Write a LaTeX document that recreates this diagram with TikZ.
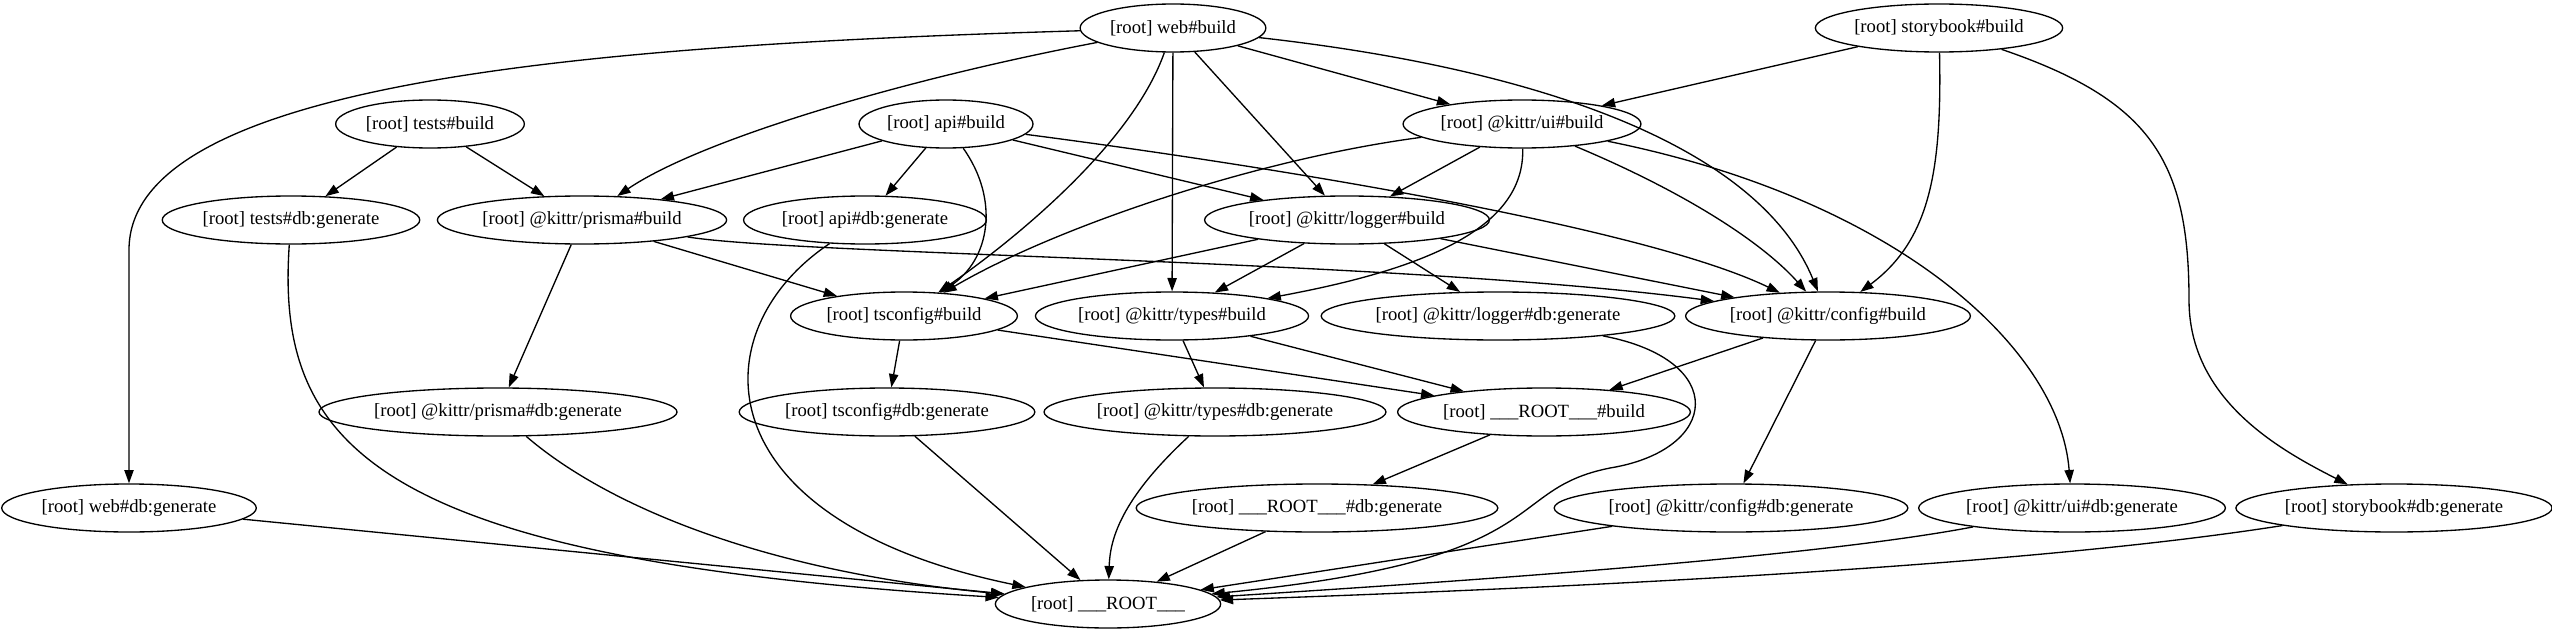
\documentclass[tikz,border=0pt]{standalone}
\usepackage{fontspec}
\setmainfont{Liberation Serif}
\usetikzlibrary{shapes.geometric,arrows.meta}
\tikzset{
  task/.style={draw, ellipse, line width=1pt, minimum height=36pt, inner xsep=2pt, inner ysep=1pt,
    font=\fontsize{14}{16}\selectfont},
  dep/.style={-{Triangle[length=10pt,width=7pt]}, line width=1pt}
}
\begin{document}
\begin{tikzpicture}[x=0.75pt,y=-0.75pt]
\useasboundingbox (0,0) rectangle (2552,635);
% rank 0
\node[task] (web) at (1173,28) {[root] web\#build};
\node[task] (storybook) at (1939,28) {[root] storybook\#build};
% rank 1
\node[task] (tests) at (430,124) {[root] tests\#build};
\node[task] (api) at (946,124) {[root] api\#build};
\node[task] (ui) at (1522,124) {[root] @kittr/ui\#build};
% rank 2
\node[task] (testsdb) at (291,220) {[root] tests\#db:generate};
\node[task] (prisma) at (582,220) {[root] @kittr/prisma\#build};
\node[task] (apidb) at (865,220) {[root] api\#db:generate};
\node[task] (logger) at (1347,220) {[root] @kittr/logger\#build};
% rank 3
\node[task] (tsconfig) at (904,316) {[root] tsconfig\#build};
\node[task] (types) at (1172,316) {[root] @kittr/types\#build};
\node[task] (loggerdb) at (1498,316) {[root] @kittr/logger\#db:generate};
\node[task] (config) at (1828,316) {[root] @kittr/config\#build};
% rank 4
\node[task] (prismadb) at (498,412) {[root] @kittr/prisma\#db:generate};
\node[task] (tsconfigdb) at (887,412) {[root] tsconfig\#db:generate};
\node[task] (typesdb) at (1215,412) {[root] @kittr/types\#db:generate};
\node[task] (rootbuild) at (1544,412) {[root] \_\_\_ROOT\_\_\_\#build};
% rank 5
\node[task] (webdb) at (129,508) {[root] web\#db:generate};
\node[task] (rootdb) at (1317,508) {[root] \_\_\_ROOT\_\_\_\#db:generate};
\node[task] (configdb) at (1731,508) {[root] @kittr/config\#db:generate};
\node[task] (uidb) at (2072,508) {[root] @kittr/ui\#db:generate};
\node[task] (storybookdb) at (2394,508) {[root] storybook\#db:generate};
% rank 6
\node[task] (root) at (1108,604) {[root] \_\_\_ROOT\_\_\_};

% web#build
\draw[dep] (web) .. controls (600,45) and (129,80) .. (129,250) -- (webdb);
\draw[dep] (web) .. controls (900,80) and (700,140) .. (prisma);
\draw[dep] (web) .. controls (1130,150) and (1000,250) .. (tsconfig);
\draw[dep] (web) -- (types);
\draw[dep] (web) -- (logger);
\draw[dep] (web) -- (ui);
\draw[dep] (web) .. controls (1550,70) and (1760,150) .. (config);
% storybook#build
\draw[dep] (storybook) -- (ui);
\draw[dep] (storybook) .. controls (1942,170) and (1930,240) .. (config);
\draw[dep] (storybook) .. controls (2150,100) and (2189,160) .. (2189,300)
  .. controls (2189,400) and (2280,450) .. (storybookdb);
% tests#build
\draw[dep] (tests) -- (testsdb);
\draw[dep] (tests) -- (prisma);
% api#build
\draw[dep] (api) -- (prisma);
\draw[dep] (api) -- (apidb);
\draw[dep] (api) .. controls (1000,200) and (990,260) .. (tsconfig);
\draw[dep] (api) -- (logger);
\draw[dep] (api) .. controls (1300,170) and (1650,230) .. (config);
% @kittr/ui#build
\draw[dep] (ui) .. controls (1250,160) and (1050,230) .. (tsconfig);
\draw[dep] (ui) -- (logger);
\draw[dep] (ui) .. controls (1525,230) and (1420,270) .. (types);
\draw[dep] (ui) .. controls (1680,190) and (1760,240) .. (config);
\draw[dep] (ui) .. controls (1900,200) and (2060,350) .. (uidb);
% @kittr/prisma#build
\draw[dep] (prisma) -- (tsconfig);
\draw[dep] (prisma) .. controls (800,255) and (1400,260) .. (config);
\draw[dep] (prisma) -- (prismadb);
% @kittr/logger#build
\draw[dep] (logger) -- (tsconfig);
\draw[dep] (logger) -- (types);
\draw[dep] (logger) -- (loggerdb);
\draw[dep] (logger) -- (config);
% rank 3 and 4
\draw[dep] (tsconfig) -- (tsconfigdb);
\draw[dep] (tsconfig) -- (rootbuild);
\draw[dep] (types) -- (typesdb);
\draw[dep] (types) -- (rootbuild);
\draw[dep] (config) -- (rootbuild);
\draw[dep] (config) -- (configdb);
\draw[dep] (rootbuild) -- (rootdb);
% everything into ___ROOT___
\draw[dep] (webdb) -- (root);
\draw[dep] (testsdb) .. controls (275,450) and (380,560) .. (root);
\draw[dep] (prismadb) .. controls (600,500) and (750,570) .. (root);
\draw[dep] (apidb) .. controls (700,330) and (700,520) .. (root);
\draw[dep] (tsconfigdb) -- (root);
\draw[dep] (typesdb) .. controls (1120,500) and (1110,540) .. (root);
\draw[dep] (rootdb) -- (root);
\draw[dep] (loggerdb) .. controls (1730,360) and (1720,450) .. (1610,468)
  .. controls (1500,490) and (1560,560) .. (root);
\draw[dep] (configdb) -- (root);
\draw[dep] (uidb) .. controls (1800,560) and (1400,585) .. (root);
\draw[dep] (storybookdb) .. controls (2000,570) and (1500,590) .. (root);
\end{tikzpicture}
\end{document}
